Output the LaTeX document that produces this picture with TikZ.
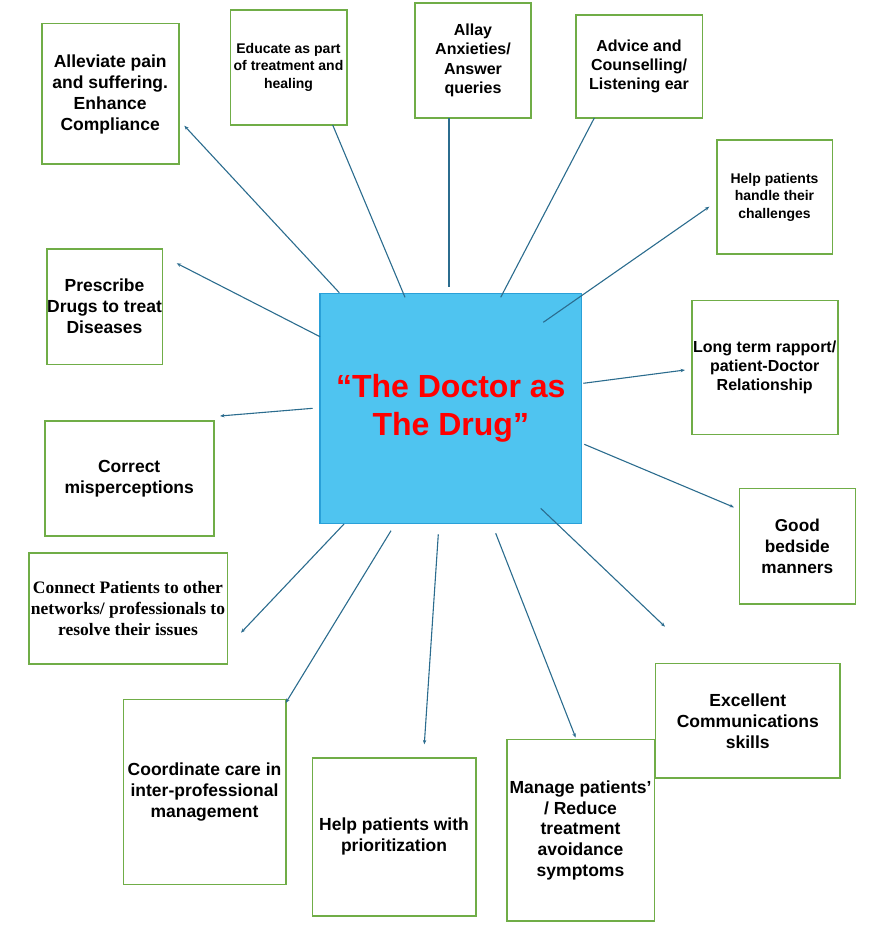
\documentclass[tikz,border=0pt]{standalone}
\usepackage{fontspec}
\setmainfont{Liberation Sans}
\newfontfamily\serifbox{Liberation Serif}
\usetikzlibrary{arrows.meta}
\definecolor{boxgreen}{HTML}{70AD47}
\definecolor{linkblue}{HTML}{2B6C8E}
\definecolor{drugfill}{HTML}{4FC4F0}
\definecolor{drugedge}{HTML}{2AA0D8}
\definecolor{drugred}{HTML}{FF0000}
\begin{document}
\begin{tikzpicture}[x=1pt,y=-1pt,
  ibox/.style={draw=boxgreen, line width=1.6pt, fill=white, align=center, inner sep=0pt,
    font=\bfseries\fontsize{17.5}{21}\selectfont},
  smalltext/.style={font=\bfseries\fontsize{14}{17.5}\selectfont},
  midtext/.style={font=\bfseries\fontsize{16}{19.2}\selectfont},
  serftext/.style={font=\serifbox\bfseries\fontsize{17.5}{21}\selectfont},
  hub/.style={draw=drugedge, line width=1.2pt, fill=drugfill, align=center, inner sep=0pt,
    text=drugred, font=\bfseries\fontsize{32}{38}\selectfont},
  link/.style={draw=linkblue, line width=1.1pt},
  arr/.style={link, -{Stealth[length=4.5pt,width=3.5pt]}}
]
\useasboundingbox (0,0) rectangle (880,936);

% centre
\node[hub, minimum width=261.7pt, minimum height=230pt] (doc) at (450.8,408.3)
  {“The Doctor as\\The Drug”};

% boxes
\node[ibox, minimum width=137pt, minimum height=140.6pt] (alleviate) at (110.2,94)
  {Alleviate pain\\and suffering.\\Enhance\\Compliance};
\node[ibox, smalltext, minimum width=116.4pt, minimum height=115.3pt] (educate) at (288.5,67.4)
  {Educate as part\\of treatment and\\healing};
\node[ibox, midtext, minimum width=116pt, minimum height=115.3pt] (allay) at (473,60.4)
  {Allay\\Anxieties/\\Answer\\queries};
\node[ibox, midtext, minimum width=126.6pt, minimum height=103.3pt] (advice) at (639,66.4)
  {Advice and\\Counselling/\\Listening ear};
\node[ibox, smalltext, minimum width=115.6pt, minimum height=114pt] (handle) at (774.5,197)
  {Help patients\\handle their\\challenges};
\node[ibox, font=\bfseries\fontsize{16}{18.8}\selectfont, minimum width=146pt, minimum height=134pt] (rapport) at (764.7,367.5)
  {Long term rapport/\\patient-Doctor\\Relationship};
\node[ibox, font=\bfseries\fontsize{17.2}{20.8}\selectfont, minimum width=116pt, minimum height=115.7pt] (bedside) at (797.3,546.2)
  {Good\\bedside\\manners};
\node[ibox, minimum width=184.3pt, minimum height=114.7pt] (comm) at (747.8,720.9)
  {Excellent\\Communications\\skills};
\node[ibox, font=\bfseries\fontsize{17.5}{20.7}\selectfont, minimum width=147.6pt, minimum height=181.7pt] (manage) at (580.5,830.4)
  {Manage patients’\\/ Reduce\\treatment\\avoidance\\symptoms};
\node[ibox, minimum width=163.4pt, minimum height=158.3pt] (prior) at (394,836.9)
  {Help patients with\\prioritization};
\node[ibox, minimum width=162.4pt, minimum height=185pt] (coord) at (204.5,792)
  {Coordinate care in\\inter-professional\\management};
\node[ibox, serftext, minimum width=198.6pt, minimum height=110.6pt] (connect) at (128,608.5)
  {Connect Patients to other\\networks/ professionals to\\resolve their issues};
\node[ibox, minimum width=169pt, minimum height=115.3pt] (correct) at (129.2,478.4)
  {Correct\\misperceptions};
\node[ibox, minimum width=115.6pt, minimum height=115.7pt] (prescribe) at (104.5,306.6)
  {Prescribe\\Drugs to treat\\Diseases};

% connector end points
\coordinate (s1) at (339.3,292.7);  \coordinate (e1) at (184.3,125.7);
\coordinate (s2) at (405,297.3);    \coordinate (e2) at (332.7,125);
\coordinate (s3) at (449,286.7);    \coordinate (e3) at (449,118.3);
\coordinate (s4) at (500.7,297.3);  \coordinate (e4) at (594.3,118);
\coordinate (s5) at (543.3,322.3);  \coordinate (e5) at (709.3,206.7);
\coordinate (s6) at (583.3,383.3);  \coordinate (e6) at (685,370);
\coordinate (s7) at (584.3,444.3);  \coordinate (e7) at (734,507.3);
\coordinate (s8) at (540.7,508.3);  \coordinate (e8) at (665,626.7);
\coordinate (s9) at (495.7,533.3);  \coordinate (e9) at (575.7,737.7);
\coordinate (s10) at (438.3,534.3); \coordinate (e10) at (424.3,744.3);
\coordinate (s11) at (391,530.7);   \coordinate (e11) at (285.7,703);
\coordinate (s12) at (344,524);     \coordinate (e12) at (241,632.7);
\coordinate (s13) at (312.7,408.3); \coordinate (e13) at (220,416);
\coordinate (s14) at (320,336.7);   \coordinate (e14) at (176.7,263.3);

% connectors
\draw[arr] (s1) -- (e1);
\draw[link] (s2) -- (e2);
\draw[link] (s3) -- (e3);
\draw[link] (s4) -- (e4);
\draw[arr] (s5) -- (e5);
\draw[arr] (s6) -- (e6);
\draw[arr] (s7) -- (e7);
\draw[arr] (s8) -- (e8);
\draw[arr] (s9) -- (e9);
\draw[arr] (s10) -- (e10);
\draw[arr] (s11) -- (e11);
\draw[arr] (s12) -- (e12);
\draw[arr] (s13) -- (e13);
\draw[arr] (s14) -- (e14);
\end{tikzpicture}
\end{document}
